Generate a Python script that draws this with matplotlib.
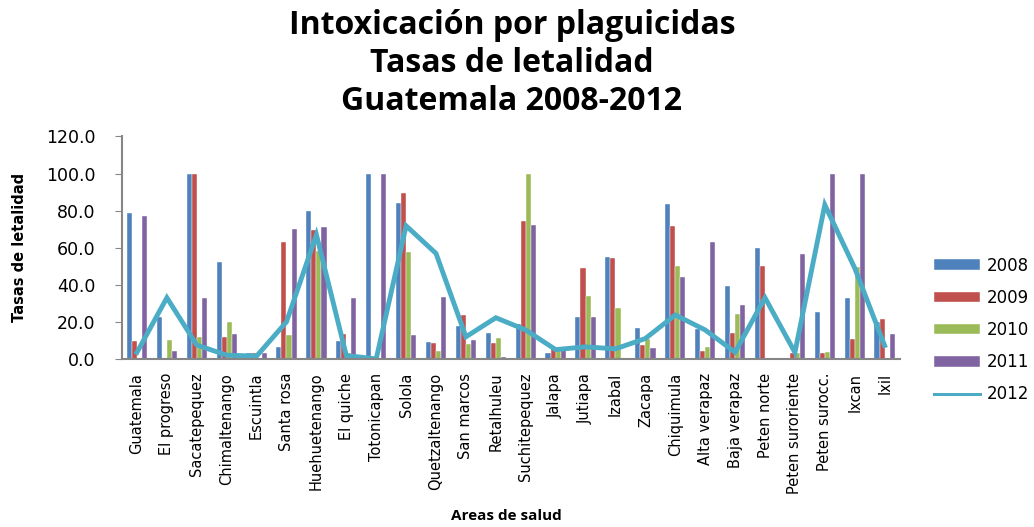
import numpy as np
import matplotlib.pyplot as plt
from matplotlib.lines import Line2D

areas = ['Guatemala', 'El progreso', 'Sacatepequez', 'Chimaltenango', 'Escuintla',
         'Santa rosa', 'Huehuetenango', 'El quiche', 'Totonicapan', 'Solola',
         'Quetzaltenango', 'San marcos', 'Retalhuleu', 'Suchitepequez', 'Jalapa',
         'Jutiapa', 'Izabal', 'Zacapa', 'Chiquimula', 'Alta verapaz', 'Baja verapaz',
         'Peten norte', 'Peten suroriente', 'Peten surocc.', 'Ixcan', 'Ixil']

t2008 = [78.6, 22.8, 100.0, 52.4, 3.0, 6.5, 80.0, 9.9, 100.0, 84.0, 9.3, 18.0, 14.0,
         19.0, 3.0, 22.8, 55.1, 16.6, 83.5, 16.0, 39.1, 60.0, 0.0, 25.5, 33.0, 19.7]
t2009 = [9.9, 0.0, 100.0, 12.0, 3.0, 63.3, 69.3, 13.5, 0.0, 89.4, 8.8, 23.6, 8.8,
         74.3, 6.5, 49.0, 54.4, 7.5, 71.6, 4.5, 14.2, 50.0, 3.0, 3.0, 10.6, 21.5]
t2010 = [0.0, 10.0, 11.7, 19.8, 0.0, 13.0, 58.0, 3.0, 0.0, 57.8, 4.5, 8.0, 11.5,
         100.0, 5.0, 34.0, 27.2, 11.0, 50.3, 6.5, 24.4, 0.0, 3.0, 3.7, 49.4, 0.0]
t2011 = [77.0, 4.0, 33.0, 13.5, 3.0, 69.9, 70.9, 33.0, 100.0, 13.0, 33.6, 10.0, 1.0,
         72.3, 6.5, 22.8, 0.0, 6.0, 44.2, 63.3, 29.3, 0.0, 56.6, 100.0, 100.0, 13.5]
t2012 = [3.5, 33.0, 7.5, 2.0, 1.5, 20.0, 67.0, 1.8, 0.0, 71.8, 56.9, 11.9, 22.2,
         15.6, 5.0, 6.5, 5.4, 11.0, 23.7, 15.6, 3.6, 33.0, 3.5, 83.1, 49.0, 7.2]

fig = plt.figure(figsize=(10.34, 5.27), dpi=100)
ax = fig.add_axes([0.118, 0.319, 0.752, 0.422])

x = np.arange(len(areas))
w = 0.17
cols = ['#4F81BD', '#C0504D', '#9BBB59', '#8064A2']
line_col = '#4BACC6'
bars = []
for k, vals in enumerate([t2008, t2009, t2010, t2011]):
    b = ax.bar(x + (k - 1.5) * w, vals, w, color=cols[k], edgecolor='white', linewidth=0.3)
    bars.append(b)
ax.plot(x, t2012, color=line_col, lw=3.5, solid_joinstyle='miter')

ax.set_xlim(-0.5, len(areas) - 0.5)
ax.set_ylim(0, 120)
ax.set_yticks(np.arange(0, 121, 20))
ax.set_yticklabels(['%.1f' % v for v in np.arange(0, 121, 20)], fontsize=12.5)
ax.set_xticks(x)
ax.set_xticklabels(areas, rotation=90, fontsize=10.5)
ax.tick_params(axis='x', length=0, pad=10)
ax.tick_params(axis='y', length=5, color='#868686', pad=14)
for s in ['top', 'right']:
    ax.spines[s].set_visible(False)
for s in ['left', 'bottom']:
    ax.spines[s].set_color('#868686')
    ax.spines[s].set_linewidth(1.5)

ax.set_ylabel('Tasas de letalidad', fontsize=10.5, fontweight='bold', labelpad=14)
fig.text(0.49, 0.008, 'Areas de salud', ha='center', va='bottom', fontsize=11, fontweight='bold',
         family=['Open Sans', 'DejaVu Sans'])

fig.text(0.495, 0.982, 'Intoxicación por plaguicidas\nTasas de letalidad\nGuatemala 2008-2012',
         ha='center', va='top', fontsize=23, fontweight='bold', linespacing=1.2,
         family=['Open Sans', 'DejaVu Sans'])

# legend: bars first, the 2012 line last with a thinner stroke
handles = bars + [Line2D([], [], color=line_col, lw=2.2)]
ax.legend(handles, ['2008', '2009', '2010', '2011', '2012'], loc='center left',
          bbox_to_anchor=(1.025, 0.13), frameon=False, fontsize=12,
          handlelength=2.75, handleheight=0.6, labelspacing=0.85, handletextpad=0.4)

fig.savefig('out.png', dpi=100)
